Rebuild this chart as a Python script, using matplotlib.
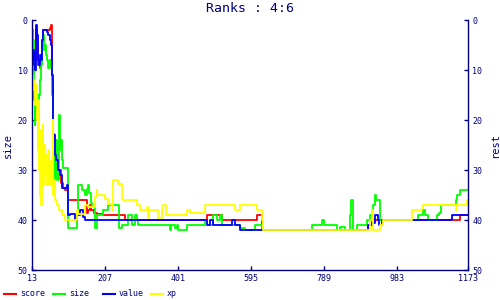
import matplotlib
matplotlib.use('Agg')
import matplotlib.pyplot as plt
from matplotlib.lines import Line2D

title = 'Ranks : 4:6'
x_ticks = [13, 207, 401, 595, 789, 983, 1173]
y_ticks = [0, 10, 20, 30, 40, 50]
names = ['score', 'size', 'value', 'xp']
colors = ['#ff0000', '#00ff00', '#0000ff', '#ffff00']

# step series (x = sample, y = rank)
score_x = [13, 15, 18, 24, 27, 29, 34, 37, 40, 42, 61, 64, 66, 69, 74, 77, 82, 90, 96, 101,
           109, 159, 162, 167, 170, 178, 186, 202, 260, 479, 518, 612, 625, 907, 917, 1130, 1151, 1173]
score_y = [6, 10, 8, 2, 5, 9, 9.5, 8, 5, 2, 1.5, 1, 12, 23, 24, 27, 30, 32.5, 33.5, 34,
           36, 38.5, 38, 37, 38, 38.5, 38.7, 39, 40, 39, 40, 39, 42, 41, 40, 40, 39, 39]

size_x = [13, 15, 16, 18, 20, 22, 24, 26, 29, 32, 34, 37, 40, 42, 45, 48, 50, 53, 56, 61,
          64, 66, 68, 70, 72, 75, 77, 80, 82, 86, 88, 90, 93, 96, 109, 133, 135, 146, 154, 159,
          162, 164, 170, 173, 181, 186, 202, 215, 244, 252, 268, 279, 287, 292, 295, 380, 383, 393, 398, 401,
          425, 473, 479, 495, 505, 513, 518, 566, 580, 606, 625, 758, 784, 789, 824, 832, 845, 859, 862, 866,
          877, 904, 912, 917, 920, 925, 928, 939, 1040, 1053, 1058, 1066, 1090, 1095, 1101, 1141, 1143, 1151, 1173]
size_y = [3, 2, 4, 16, 21, 14, 18, 15, 20, 15, 12, 9, 4, 3, 6, 5, 7, 8, 9.5, 8,
          9, 15, 24, 31, 26, 32, 24, 30, 32, 19, 26, 24, 28, 29.5, 41.6, 39, 33, 34, 35, 33.7,
          33, 34.5, 36.5, 37.3, 41.6, 39, 38, 37, 41.6, 41, 39, 41, 39, 40, 41, 42, 41, 41.5, 41, 42,
          41, 40, 41, 39, 40, 39, 41, 41.5, 42, 41, 42, 41, 40, 41, 42, 41.4, 42, 39, 36, 42,
          41, 40, 39, 38, 37, 35, 36, 40, 39, 38, 39, 40, 39, 38.5, 37, 36, 35, 34, 34]

value_x = [13, 14, 16, 18, 20, 22, 24, 26, 28, 31, 34, 37, 40, 42, 53, 56, 61, 64, 66, 68,
           72, 75, 78, 82, 88, 93, 106, 109, 114, 127, 133, 141, 149, 154, 479, 486, 495, 546, 553, 566,
           907, 917, 925, 933, 936, 944, 1130, 1173]
value_y = [7, 9, 6, 8, 7, 10, 1, 3, 8, 9, 7, 8, 4, 2, 2.4, 3, 4, 5, 11, 22.7,
           23, 27, 28, 30, 31, 33.5, 33, 39, 38.7, 40, 39, 38, 39.3, 40, 41, 40, 41, 40, 41, 42,
           41, 40.5, 39, 40, 41, 40, 39, 39]

xp_x = [13, 16, 18, 21, 22, 24, 26, 28, 29, 32, 33, 34, 37, 40, 41, 42, 45, 48, 49, 53,
        56, 58, 61, 62, 64, 66, 68, 70, 72, 74, 80, 85, 93, 101, 133, 135, 154, 162, 181, 186,
        187, 207, 215, 226, 228, 242, 252, 255, 292, 300, 319, 321, 324, 348, 358, 361, 369, 425, 433, 473,
        553, 566, 612, 625, 628, 912, 917, 920, 939, 947, 1024, 1050, 1053, 1141, 1143, 1170, 1173]
xp_y = [11, 14, 12, 15, 17, 13, 20, 26, 16, 30, 35, 22, 37, 28, 21, 33, 25, 31, 27, 33,
        26, 32, 29, 33, 28, 33, 20, 35, 32, 36, 37, 38, 39, 40, 38, 38.7, 37, 37.3, 35.3, 34,
        35, 35.7, 36.7, 38, 32, 32.7, 35.7, 36, 37, 38, 37.3, 39.5, 38, 39.5, 38, 37, 39, 38, 38.5, 37,
        38, 37, 38, 40, 42, 40, 38, 42, 41, 40, 38, 37.5, 37, 38, 37, 36, 36]

navy = '#000080'
plt.rcParams['font.family'] = ['DejaVu Sans Mono']

fig = plt.figure(figsize=(5, 3), dpi=100)
ax = fig.add_axes([0.064, 0.1, 0.872, 0.8333])

series = [(score_x, score_y), (size_x, size_y), (value_x, value_y), (xp_x, xp_y)]
for (xs, ys), c, n in zip(series, colors, names):
    ax.plot(xs, ys, drawstyle='steps-post', color=c, lw=1.3, label=n)

ax.set_xlim(13, 1173)
ax.set_ylim(50, 0)
ax.set_xticks(x_ticks)
ax.set_yticks(y_ticks)
ax.tick_params(axis='both', direction='in', length=3, width=1, color=navy,
               labelcolor=navy, labelsize=6, pad=3)
for s in ['top', 'right']:
    ax.spines[s].set_visible(False)
for s in ['left', 'bottom']:
    ax.spines[s].set_color(navy)
    ax.spines[s].set_linewidth(1)
ax.set_ylabel('size', color=navy, fontsize=7.5)
ax.yaxis.set_label_coords(-0.044, 0.5)

ax2 = ax.twinx()
ax2.set_ylim(50, 0)
ax2.set_yticks(y_ticks)
ax2.tick_params(axis='y', direction='in', length=3, width=1, color=navy,
                labelcolor=navy, labelsize=6, pad=3)
for s in ['top', 'left', 'bottom']:
    ax2.spines[s].set_visible(False)
ax2.spines['right'].set_color(navy)
ax2.spines['right'].set_linewidth(1)
ax2.set_ylabel('rest', color=navy, fontsize=7.5)
ax2.yaxis.set_label_coords(1.051, 0.5)

fig.text(0.5, 0.972, title, ha='center', va='center', color=navy, fontsize=9.5)

# legend entries spaced like the original, one small legend each
legend_x = [0.008, 0.106, 0.206, 0.302]
for lx, c, n in zip(legend_x, colors, names):
    h = Line2D([], [], color=c, lw=1.5)
    fig.legend([h], [n], loc='center left', bbox_to_anchor=(lx, 0.02), frameon=False,
               fontsize=6, labelcolor=navy, handlelength=1.45, handletextpad=0.45,
               borderpad=0, borderaxespad=0)

fig.savefig('out.png', dpi=100)
